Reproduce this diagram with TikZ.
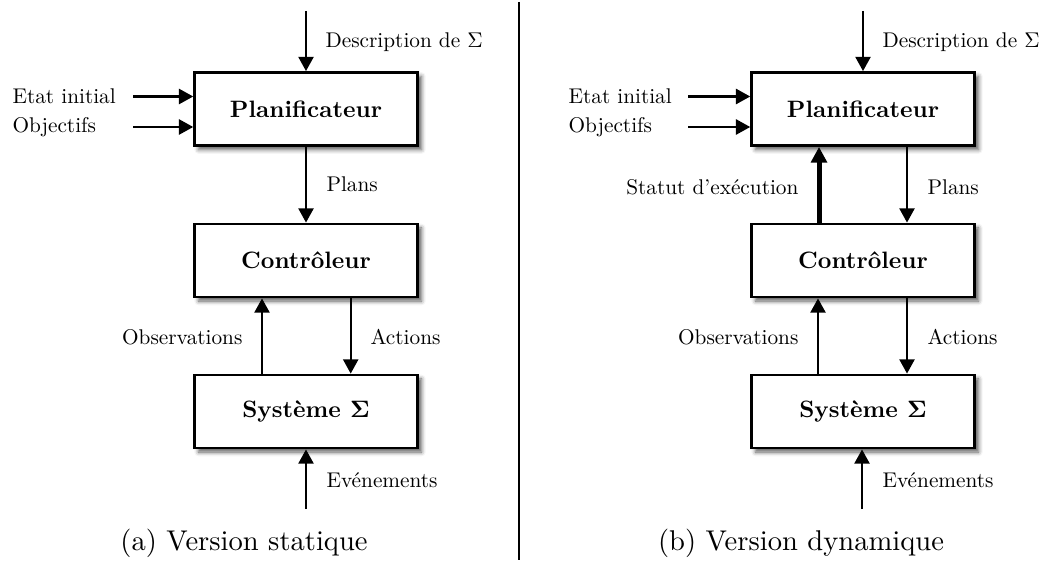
\documentclass[tikz,border=0pt]{standalone}
\usepackage{graphicx}
\usetikzlibrary{arrows.meta,shadows.blur}
\newcommand{\lbltext}[1]{\scalebox{0.745}{\fontsize{10}{12}\selectfont #1}}
\newcommand{\boxtext}[1]{\scalebox{0.83}{\fontsize{10}{12}\selectfont\bfseries #1}}
\begin{document}
\begin{tikzpicture}[x=0.35pt,y=-0.35pt,
  box/.style={draw, line width=0.95pt, fill=white, minimum width=78pt, minimum height=25.6pt, inner sep=0pt,
    blur shadow={shadow xshift=1.4pt, shadow yshift=-1.4pt, shadow blur radius=1.5pt, shadow opacity=65}},
  lbl/.style={inner sep=0pt},
  flow/.style={line width=0.75pt, -{Triangle[length=5pt,width=5.3pt]}},
  thickflow/.style={line width=1.75pt, -{Triangle[length=5.5pt,width=5.5pt]}},
  captxt/.style={font=\fontsize{10}{12}\selectfont, inner sep=0pt}]
\useasboundingbox (0,0) rectangle (1043,560);

% ---------- (a) ----------
\node[box] (p1) at (306,109) {\boxtext{Planificateur}};
\node[box] (c1) at (306,260.5) {\boxtext{Contrôleur}};
\node[box] (s1) at (306,411.5) {\boxtext{Système {\boldmath$\Sigma$}}};

\coordinate (d1) at (306,11);
\draw[flow] (d1) -- (d1 |- p1.north);
\node[lbl, anchor=west] (ld1) at (325,42) {\lbltext{Description de $\Sigma$}};

\coordinate (e1) at (133,96.5);
\draw[flow] (e1) -- (e1 -| p1.west);
\node[lbl, anchor=west] (le1) at (12,96.5) {\lbltext{Etat initial}};
\coordinate (o1) at (133,127);
\draw[flow] (o1) -- (o1 -| p1.west);
\node[lbl, anchor=west] (lo1) at (12,127) {\lbltext{Objectifs}};

\draw[flow] (p1) -- (c1);
\node[lbl, anchor=west] (lp1) at (326,184) {\lbltext{Plans}};

\coordinate (xo1) at (262,0);
\coordinate (xa1) at (350.7,0);
\draw[flow] (s1.north -| xo1) -- (c1.south -| xo1);
\node[lbl, anchor=east] (lob1) at (243,337) {\lbltext{Observations}};
\draw[flow] (c1.south -| xa1) -- (s1.north -| xa1);
\node[lbl, anchor=west] (lac1) at (370,337) {\lbltext{Actions}};

\coordinate (ev1) at (306,509);
\draw[flow] (ev1) -- (ev1 |- s1.south);
\node[lbl, anchor=west] (lev1) at (326,480) {\lbltext{Evénements}};

\node[captxt] (ca) at (244,543) {(a) Version statique};

% divider
\coordinate (v1) at (519,2);
\coordinate (v2) at (519,560);
\draw[line width=0.4pt] (v1) -- (v2);

% ---------- (b) ----------
\node[box] (p2) at (863,109) {\boxtext{Planificateur}};
\node[box] (c2) at (863,260.5) {\boxtext{Contrôleur}};
\node[box] (s2) at (863,411.5) {\boxtext{Système {\boldmath$\Sigma$}}};

\coordinate (d2) at (863,11);
\draw[flow] (d2) -- (d2 |- p2.north);
\node[lbl, anchor=west] (ld2) at (882,42) {\lbltext{Description de $\Sigma$}};

\coordinate (e2) at (688,96.5);
\draw[flow] (e2) -- (e2 -| p2.west);
\node[lbl, anchor=west] (le2) at (568,96.5) {\lbltext{Etat initial}};
\coordinate (o2) at (688,127);
\draw[flow] (o2) -- (o2 -| p2.west);
\node[lbl, anchor=west] (lo2) at (568,127) {\lbltext{Objectifs}};

\coordinate (xs2) at (819,0);
\coordinate (xp2) at (907,0);
\draw[thickflow] (c2.north -| xs2) -- (p2.south -| xs2);
\node[lbl, anchor=east] (lst2) at (799,187) {\lbltext{Statut d’exécution}};
\draw[flow] (p2.south -| xp2) -- (c2.north -| xp2);
\node[lbl, anchor=west] (lp2) at (927,187) {\lbltext{Plans}};

\coordinate (xo2) at (818,0);
\coordinate (xa2) at (907,0);
\draw[flow] (s2.north -| xo2) -- (c2.south -| xo2);
\node[lbl, anchor=east] (lob2) at (799,337) {\lbltext{Observations}};
\draw[flow] (c2.south -| xa2) -- (s2.north -| xa2);
\node[lbl, anchor=west] (lac2) at (927,337) {\lbltext{Actions}};

\coordinate (ev2) at (862,509);
\draw[flow] (ev2) -- (ev2 |- s2.south);
\node[lbl, anchor=west] (lev2) at (882,480) {\lbltext{Evénements}};

\node[captxt] (cb) at (801,543) {(b) Version dynamique};
\end{tikzpicture}
\end{document}
